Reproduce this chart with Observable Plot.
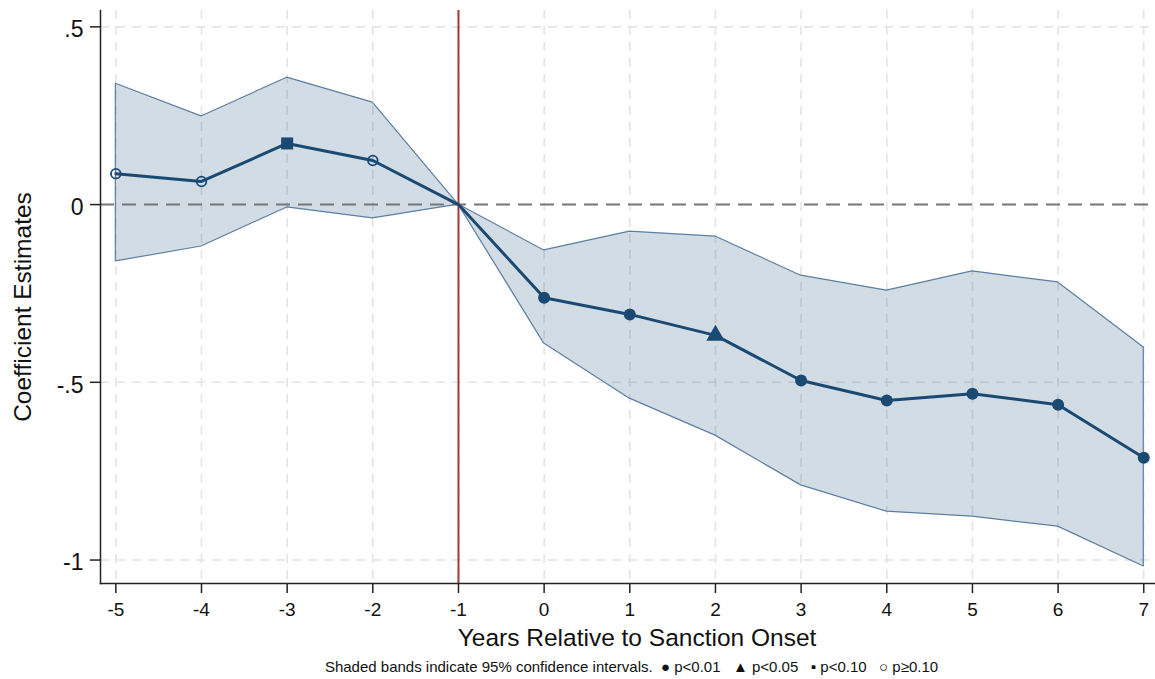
<!DOCTYPE html>
<html>
<head>
<meta charset="utf-8">
<script src="https://cdn.jsdelivr.net/npm/d3@7"></script>
<script src="https://cdn.jsdelivr.net/npm/@observablehq/plot@0.6"></script>
<style>
  body { margin: 0; background: #fff; font-family: "Liberation Sans", Arial, Helvetica, sans-serif; }
  #caption { width: 1155px; padding-left: 108px; box-sizing: border-box; text-align: center; font-size: 15px; color: #111; margin-top: 6px; white-space: nowrap; }
</style>
</head>
<body>
<div id="chart"></div>
<div id="caption">Shaded bands indicate 95% confidence intervals. &nbsp;● p&lt;0.01 &nbsp;&nbsp;▲ p&lt;0.05 &nbsp;&nbsp;▪ p&lt;0.10 &nbsp;&nbsp;○ p≥0.10</div>
<script>
const years   = [-5, -4, -3, -2, -1, 0, 1, 2, 3, 4, 5, 6, 7];
const coef    = [0.087, 0.065, 0.172, 0.124, 0, -0.262, -0.309, -0.368, -0.495, -0.551, -0.532, -0.563, -0.712];
const ciUpper = [0.340, 0.248, 0.357, 0.287, 0, -0.129, -0.076, -0.090, -0.200, -0.242, -0.188, -0.219, -0.402];
const ciLower = [-0.160, -0.118, -0.008, -0.039, 0, -0.391, -0.546, -0.650, -0.790, -0.864, -0.878, -0.906, -1.018];
const sig     = ["ns", "ns", "p10", "ns", "ref", "p01", "p01", "p05", "p01", "p01", "p01", "p01", "p01"];
const xTicks  = [-5, -4, -3, -2, -1, 0, 1, 2, 3, 4, 5, 6, 7];
const yTicks  = [0.5, 0, -0.5, -1];
const yTickLabels = [".5", "0", "-.5", "-1"];

const data = years.map((y, i) => ({year: y, coef: coef[i], lo: ciLower[i], hi: ciUpper[i], sig: sig[i]}));

const navy = "#1a4a73";
const font = "Liberation Sans, Arial, Helvetica, sans-serif";

const chart = Plot.plot({
  width: 1155,
  height: 652,
  marginLeft: 100,
  marginRight: 0,
  marginTop: 10,
  marginBottom: 69,
  style: {fontFamily: font, background: "#fff", color: "#111"},
  x: {domain: [-5.179, 7.137]},
  y: {domain: [-1.066, 0.546]},
  marks: [
    Plot.gridX(xTicks, {stroke: "#e4e4e4", strokeOpacity: 1, strokeWidth: 1.6, strokeDasharray: "9,7"}),
    Plot.gridY(yTicks.filter(d => d !== 0), {stroke: "#e4e4e4", strokeOpacity: 1, strokeWidth: 1.6, strokeDasharray: "9,7"}),
    Plot.areaY(data, {x: "year", y1: "lo", y2: "hi", fill: "#1d4f7a", fillOpacity: 0.2, stroke: "#5b7fa3", strokeWidth: 1.2}),
    Plot.ruleY([0], {stroke: "#777", strokeWidth: 2, strokeDasharray: "14,8"}),
    Plot.ruleX([-1], {stroke: "#a33a3a", strokeWidth: 2}),
    Plot.lineY(data, {x: "year", y: "coef", stroke: navy, strokeWidth: 3}),
    Plot.dot(data.filter(d => d.sig === "p01"), {x: "year", y: "coef", r: 6, fill: navy, stroke: "none"}),
    Plot.dot(data.filter(d => d.sig === "p05"), {x: "year", y: "coef", symbol: "triangle", r: 6.8, fill: navy, stroke: "none"}),
    Plot.dot(data.filter(d => d.sig === "p10"), {x: "year", y: "coef", symbol: "square", r: 6.8, fill: navy, stroke: "none"}),
    Plot.dot(data.filter(d => d.sig === "ns"), {x: "year", y: "coef", r: 4.8, fill: "none", stroke: navy, strokeWidth: 1.8}),
    Plot.axisX({ticks: xTicks, tickFormat: d => String(d), tickSize: 10, tickPadding: 9, fontSize: 19, label: null, stroke: "#222", strokeWidth: 1.5}),
    Plot.axisY({ticks: yTicks, tickFormat: () => "", tickSize: 10, label: null, stroke: "#222", strokeWidth: 1.5}),
    Plot.axisY({ticks: yTicks, tickFormat: d => yTickLabels[yTicks.indexOf(d)], tickSize: 0, tickPadding: 17, fontSize: 23, dy: 3, label: null}),
    Plot.frame({anchor: "left", stroke: "#222", strokeWidth: 1.5}),
    Plot.frame({anchor: "bottom", stroke: "#222", strokeWidth: 1.5}),
    Plot.text(["Years Relative to Sanction Onset"], {text: d => d, frameAnchor: "bottom", textAnchor: "middle", dx: 9, dy: 62, fontSize: 24.5, fill: "#111"}),
    Plot.text(["Coefficient Estimates"], {text: d => d, frameAnchor: "left", textAnchor: "middle", rotate: -90, dx: -77, dy: 10, fontSize: 24.5, fill: "#111"})
  ]
});
document.getElementById("chart").appendChild(chart);
</script>
</body>
</html>
